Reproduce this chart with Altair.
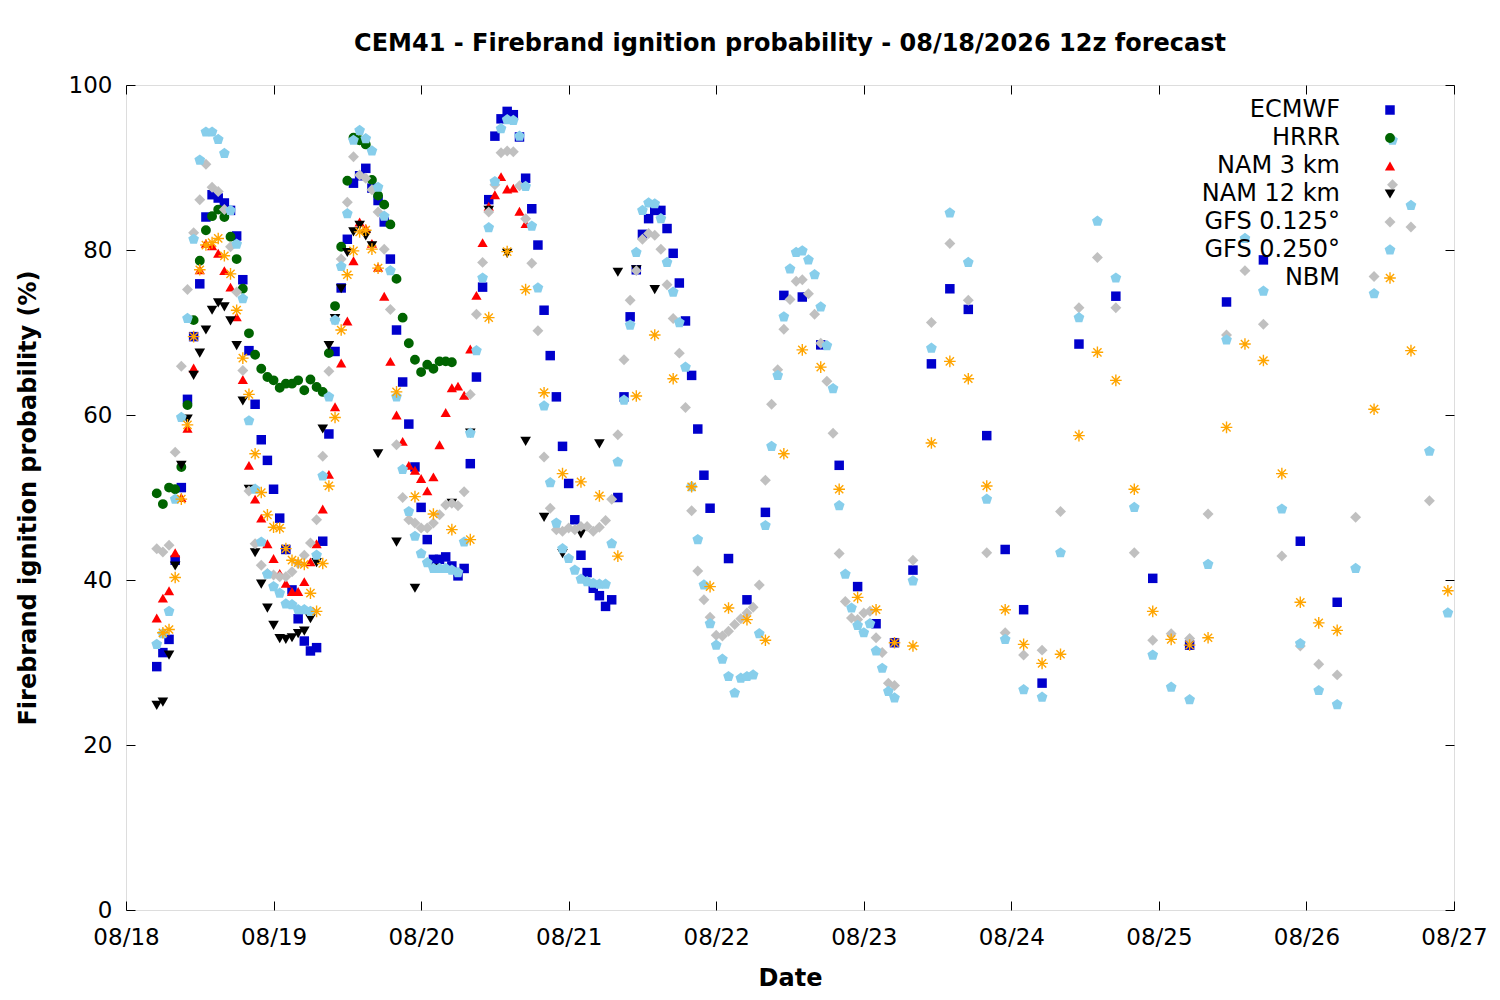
import json
import math
import altair as alt
import pandas as pd

# ---------------- data (hours since 08/18 00:00 local, probability %) ----------------
SERIES = ["ECMWF", "HRRR", "NAM 3 km", "NAM 12 km", "GFS 0.125°", "GFS 0.250°", "NBM"]
COLORS = ["#0000CC", "#006400", "#FF0000", "#000000", "#C0C0C0", "#87CEEB", "#FFA500"]
TICK_LABELS = ["08/18", "08/19", "08/20", "08/21", "08/22", "08/23", "08/24", "08/25", "08/26", "08/27"]
Y_TICKS = [0, 20, 40, 60, 80, 100]

ecmwf_hours = list(range(5, 96)) + list(range(98, 150, 3)) + list(range(155, 198, 6))
ecmwf_vals = [
    29.5, 31.2, 32.8, 42.4, 51.2, 61.9, 69.5, 75.9, 84.0, 86.7,
    86.3, 85.7, 84.8, 81.7, 76.4, 67.8, 61.3, 57.0, 54.5, 51.0,
    47.5, 43.7, 38.8, 35.3, 32.6, 31.4, 31.8, 44.7, 57.7, 67.7,
    75.4, 81.3, 88.1, 89.0, 89.9, 87.5, 86.0, 83.4, 78.9, 70.3,
    64.0, 58.9, 53.7, 48.8, 44.9, 42.5, 42.5, 42.8, 41.7, 40.5,
    41.4, 54.1, 64.6, 75.5, 86.1, 93.8, 95.9, 96.8, 96.4, 93.7,
    88.7, 85.0, 80.6, 72.7, 67.2, 62.2, 56.2, 51.7, 47.3, 43.0,
    40.9, 39.0, 38.1, 36.8, 37.6, 50.0, 62.2, 71.9, 77.6, 81.9,
    83.8, 84.8, 84.8, 82.6, 79.6, 76.0, 71.4, 64.8, 58.3, 52.7,
    48.7,
    42.6, 37.6, 48.2, 74.5, 74.3, 68.5, 53.9, 39.2, 34.7, 32.4,
    41.2, 66.2, 75.3, 72.8, 57.5, 43.7, 36.4, 27.5,
    68.6, 74.4, 40.2, 32.1, 73.7, 78.8, 44.7, 37.3,
]

hrrr_hours = list(range(5, 54))
hrrr_vals = [
    50.5, 49.2, 51.2, 51.0, 53.7, 61.2, 71.5, 78.7, 82.4, 84.1,
    84.9, 84.0, 81.6, 78.9, 75.3, 69.9, 67.3, 65.6, 64.6, 64.2,
    63.3, 63.8, 63.8, 64.2, 63.0, 64.3, 63.4, 62.8, 67.5, 73.2,
    80.4, 88.4, 93.6, 93.3, 92.8, 88.5, 86.6, 85.5, 83.1, 76.5,
    71.8, 68.7, 66.7, 65.2, 66.1, 65.6, 66.5, 66.5, 66.4,
]

nam3_hours = list(range(5, 66))
nam3_vals = [
    35.4, 37.8, 38.7, 43.3, 50.0, 58.4, 65.7, 77.6, 80.8, 80.5,
    79.6, 77.5, 75.5, 71.9, 64.3, 53.9, 49.8, 47.5, 44.4, 42.6,
    40.8, 39.6, 38.6, 38.6, 39.8, 42.2, 44.4, 48.6, 52.8, 61.0,
    66.3, 71.4, 78.7, 83.4, 82.6, 80.8, 77.9, 74.4, 66.5, 60.0,
    56.8, 53.9, 53.3, 52.3, 50.8, 52.5, 56.4, 60.3, 63.3, 63.5,
    62.4, 68.0, 74.5, 80.9, 85.3, 86.7, 88.9, 87.4, 87.5, 84.7, 83.2,
]

nam12_hours = list(range(5, 42)) + list(range(44, 87, 3))
nam12_vals = [
    24.8, 25.2, 30.9, 41.7, 53.9, 59.5, 64.8, 67.5, 70.3, 72.7,
    73.6, 73.1, 71.4, 68.4, 61.7, 51.0, 43.3, 39.5, 36.6, 34.5,
    32.9, 32.8, 33.0, 33.5, 33.8, 35.3, 42.1, 58.3, 68.4, 71.7,
    75.3, 79.7, 82.2, 83.0, 81.7, 80.5, 55.3,
    44.6, 39.0, 41.4, 49.3, 57.8, 84.8, 79.6, 56.8, 47.6, 43.2,
    45.6, 56.5, 77.3, 77.6, 75.2,
]

gfs125_hours = list(range(5, 126)) + list(range(128, 213, 3))
gfs125_vals = [
    43.8, 43.4, 44.2, 55.5, 65.9, 75.2, 82.1, 86.1, 90.4, 87.6,
    87.1, 84.9, 80.4, 74.9, 65.4, 50.8, 44.4, 41.8, 40.8, 40.6,
    40.4, 40.4, 41.0, 42.0, 43.0, 44.5, 47.3, 55.0, 65.3, 71.5,
    78.9, 85.8, 91.3, 89.1, 88.7, 87.3, 84.6, 80.1, 72.8, 56.4,
    50.0, 47.3, 46.9, 46.3, 46.3, 46.9, 47.9, 49.1, 49.3, 49.0,
    50.7, 62.5, 72.2, 78.5, 84.6, 87.9, 91.8, 92.0, 91.9, 87.8,
    83.8, 78.4, 70.2, 54.9, 48.7, 46.1, 45.9, 46.3, 46.1, 46.5,
    46.5, 45.9, 46.4, 47.2, 49.8, 57.6, 66.7, 73.9, 77.5, 81.3,
    82.0, 81.8, 80.1, 75.8, 71.7, 67.5, 60.9, 48.4, 41.1, 37.6,
    35.5, 33.3, 33.2, 33.8, 34.6, 35.3, 36.0, 36.7, 39.4, 52.1,
    61.3, 65.5, 70.4, 74.0, 76.2, 76.4, 74.7, 72.2, 68.7, 64.1,
    57.8, 43.2, 37.4, 35.4, 35.2, 36.0, 36.2, 33.0, 31.2, 27.5, 27.2,
    42.4, 71.2, 80.8, 73.9, 43.3, 33.6, 30.9, 31.5, 48.3, 73.0,
    79.1, 73.0, 43.3, 32.7, 33.5, 32.9, 48.0, 69.7, 77.5, 71.0,
    42.9, 32.0, 29.8, 28.5, 47.6, 76.8, 87.9, 82.8, 49.6,
]

gfs250_hours = list(range(5, 126)) + list(range(128, 216, 3))
gfs250_vals = [
    32.2, 33.5, 36.2, 49.8, 59.7, 71.7, 81.3, 90.9, 94.3, 94.3,
    93.4, 91.7, 84.8, 80.7, 74.1, 59.3, 51.0, 44.6, 40.7, 39.2,
    38.4, 37.1, 37.0, 36.4, 36.4, 36.2, 43.0, 52.6, 62.2, 71.5,
    78.0, 84.4, 93.3, 94.5, 93.5, 92.0, 87.6, 84.1, 77.5, 62.2,
    53.4, 48.3, 45.3, 43.2, 42.1, 41.4, 41.4, 41.4, 41.2, 40.9,
    44.6, 57.8, 67.8, 76.6, 82.7, 88.3, 94.7, 95.8, 95.7, 93.8,
    87.7, 82.9, 75.4, 61.1, 51.8, 46.9, 43.8, 42.6, 41.2, 40.1,
    39.8, 39.6, 39.5, 39.5, 44.4, 54.3, 61.8, 70.9, 79.7, 84.8,
    85.7, 85.6, 83.8, 78.5, 74.9, 71.2, 65.8, 51.3, 44.9, 39.4,
    34.7, 32.1, 30.4, 28.3, 26.3, 28.1, 28.3, 28.5, 33.5, 46.6,
    56.2, 64.8, 71.9, 77.7, 79.7, 79.9, 78.8, 77.0, 73.1, 68.4,
    63.2, 49.0, 40.7, 36.6, 34.5, 33.6, 34.7, 31.4, 29.3, 26.5, 25.7,
    39.9, 68.1, 84.5, 78.5, 49.8, 32.8, 26.7, 25.8, 43.3, 71.8,
    83.5, 76.6, 48.8, 30.9, 27.0, 25.5, 41.9, 69.1, 81.4, 75.0,
    48.6, 32.3, 26.6, 24.9, 41.4, 74.7, 93.3, 85.4, 55.6, 36.0,
]

nbm_hours = list(range(6, 42)) + list(range(44, 198, 3)) + [203, 209, 215]
nbm_vals = [
    33.6, 34.0, 40.3, 49.8, 58.8, 69.5, 77.6, 80.6, 80.9, 81.4,
    79.3, 77.1, 72.7, 66.9, 62.5, 55.3, 50.6, 47.9, 46.4, 46.3,
    43.8, 42.4, 42.1, 41.9, 38.4, 36.2, 42.0, 51.4, 59.7, 70.3,
    77.0, 79.9, 82.2, 82.4, 80.1, 77.8,
    62.8, 50.1, 48.0, 46.1, 44.9, 71.8, 79.8, 75.2, 62.7, 52.9,
    51.9, 50.2, 42.9, 62.3, 69.7, 64.4, 51.3, 39.2, 36.6, 35.2,
    32.7, 55.3, 67.9, 65.8, 51.0, 37.9, 36.4, 32.4, 32.0, 56.6,
    66.5, 64.4, 51.4, 36.4, 32.2, 29.9, 31.0, 57.5, 67.6, 64.2,
    51.0, 36.2, 32.8, 32.1, 33.0, 58.5, 68.6, 66.6, 52.9, 37.3,
    34.8, 33.9,
    60.7, 67.8, 38.7,
]

# ---------------- table ----------------
all_series = [
    ("ECMWF", ecmwf_hours, ecmwf_vals),
    ("HRRR", hrrr_hours, hrrr_vals),
    ("NAM 3 km", nam3_hours, nam3_vals),
    ("NAM 12 km", nam12_hours, nam12_vals),
    ("GFS 0.125°", gfs125_hours, gfs125_vals),
    ("GFS 0.250°", gfs250_hours, gfs250_vals),
    ("NBM", nbm_hours, nbm_vals),
]
rows = []
for order, (name, hrs, vals) in enumerate(all_series):
    assert len(hrs) == len(vals), (name, len(hrs), len(vals))
    for h, v in zip(hrs, vals):
        rows.append({"model": name, "hour": h, "prob": v, "order": order})
df = pd.DataFrame(rows)

# ---------------- marker shapes ----------------
def polygon_path(points):
    return "M" + " L".join(f"{x:.3f},{y:.3f}" for x, y in points) + " Z"

pentagon = polygon_path([(math.cos(math.radians(-90 + 72 * k)), math.sin(math.radians(-90 + 72 * k)))
                         for k in range(5)])

def asterisk_path(w=0.12):
    parts = []
    for ang in (0, 45, 90, 135):
        c, s = math.cos(math.radians(ang)), math.sin(math.radians(ang))
        u = (c, s)
        n = (-s, c)
        pts = [(-u[0] - w * n[0], -u[1] - w * n[1]),
               (u[0] - w * n[0], u[1] - w * n[1]),
               (u[0] + w * n[0], u[1] + w * n[1]),
               (-u[0] + w * n[0], -u[1] + w * n[1])]
        parts.append(polygon_path(pts))
    return " ".join(parts)

SHAPES = ["square", "circle", "triangle-up", "triangle-down", "diamond", pentagon, asterisk_path()]
SIZES = [90, 135, 135, 135, 130, 135, 160]

FONT = "DejaVu Sans"
x_values = [24 * i for i in range(len(TICK_LABELS))]
label_expr = json.dumps(TICK_LABELS) + "[round(datum.value / 24)]"

# legend A: coloured symbols only (labels kept invisible so the rows line up)
legend_symbols = alt.Legend(
    title=None, orient="none", legendX=1252, legendY=13,
    labelFontSize=24, labelFont=FONT, labelOpacity=0, labelLimit=30,
    rowPadding=4, symbolSize=110, symbolStrokeWidth=0, symbolOpacity=1,
)
# legend B: right-aligned labels to the left of the symbols (gnuplot style key)
legend_labels = alt.Legend(
    title=None, orient="none", legendX=1190, legendY=13,
    labelAlign="right", labelOffset=0, labelFontSize=24, labelFont=FONT,
    labelColor="black", labelLimit=400, rowPadding=4, symbolSize=110,
    symbolFillColor="transparent", symbolStrokeColor="transparent", symbolStrokeWidth=0,
    labelExpr=json.dumps(SERIES) + "[datum.value]",
)

x_scale = alt.Scale(domain=[0, 216], nice=False, zero=False)
y_scale = alt.Scale(domain=[0, 100], nice=False)

common_axis = dict(grid=False, domain=False, tickSize=9, offset=-9, tickColor="black",
                   tickWidth=1)

points = alt.Chart(df).mark_point(filled=True, strokeWidth=0).encode(
    x=alt.X("hour:Q", scale=x_scale,
            axis=alt.Axis(values=x_values, labelExpr=label_expr, labelFontSize=23,
                          labelFont=FONT, labelColor="black", labelPadding=16,
                          labelFlush=False, title="Date", titleFontSize=24,
                          titleFont=FONT, titleFontWeight="bold", titleColor="black",
                          titlePadding=17, **common_axis)),
    y=alt.Y("prob:Q", scale=y_scale,
            axis=alt.Axis(values=Y_TICKS, labelFontSize=23, labelFont=FONT,
                          labelColor="black", labelPadding=14,
                          title="Firebrand ignition probability (%)", titleFontSize=24,
                          titleFont=FONT, titleFontWeight="bold", titleColor="black",
                          titlePadding=28, **common_axis)),
    color=alt.Color("model:N", scale=alt.Scale(domain=SERIES, range=COLORS),
                    legend=legend_symbols),
    shape=alt.Shape("model:N", scale=alt.Scale(domain=SERIES, range=SHAPES),
                    legend=legend_symbols),
    size=alt.Size("model:N", scale=alt.Scale(domain=SERIES, range=SIZES), legend=None),
    opacity=alt.Opacity("order:O", scale=alt.Scale(range=[1] * len(SERIES)),
                        legend=legend_labels),
    order=alt.Order("order:Q"),
)

mirror = alt.Chart(df).mark_point(opacity=0).encode(
    x=alt.X("hour:Q", scale=x_scale,
            axis=alt.Axis(orient="top", values=x_values, labels=False, title=None, **common_axis)),
    y=alt.Y("prob:Q", scale=y_scale,
            axis=alt.Axis(orient="right", values=Y_TICKS, labels=False, title=None, **common_axis)),
)

chart = alt.layer(points, mirror).resolve_axis(x="independent", y="independent").properties(
    width=1328, height=825,
    padding={"left": 118, "top": 77, "right": 38, "bottom": 82},
    autosize=alt.AutoSizeParams(type="none"),
    title=alt.TitleParams(
        "CEM41 - Firebrand ignition probability - 08/18/2026 12z forecast",
        fontSize=24, font=FONT, fontWeight="bold", color="black", anchor="middle",
        offset=18,
    ),
).configure_view(stroke="black", strokeWidth=1).configure(background="white")

chart.save("out.html", embed_options={"renderer": "svg", "actions": False})
